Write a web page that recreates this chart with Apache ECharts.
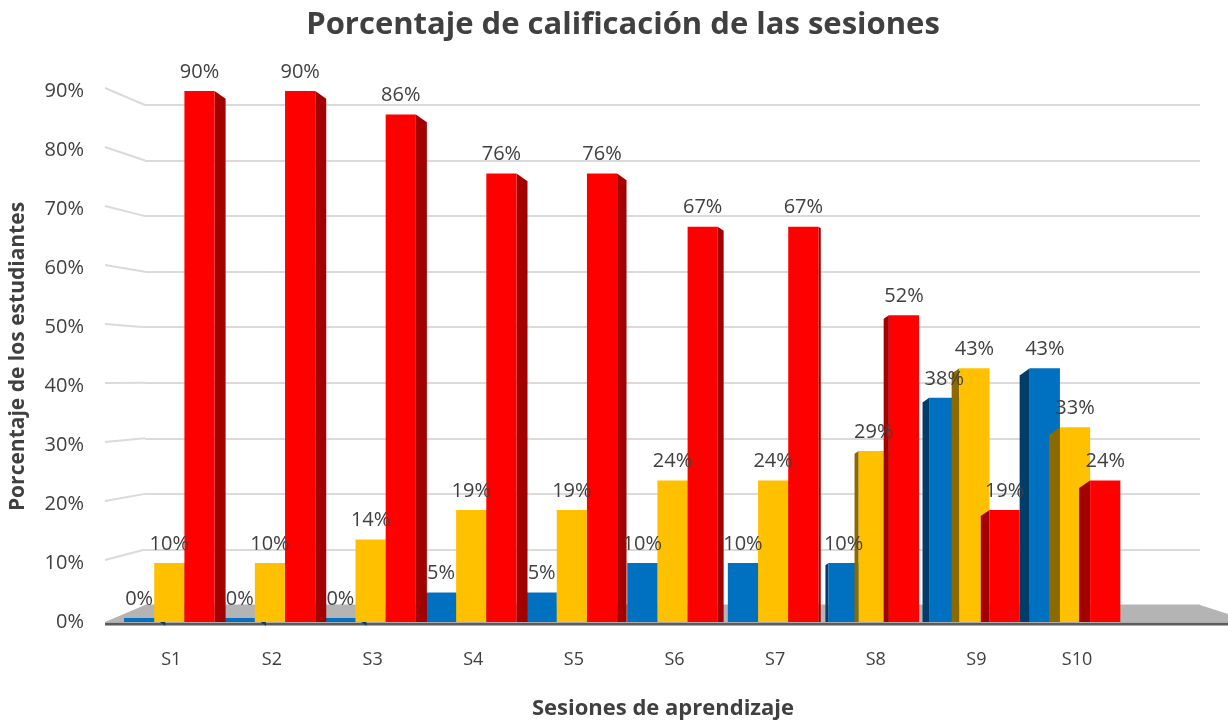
<!DOCTYPE html>
<html>
<head>
<meta charset="utf-8">
<title>Porcentaje de calificación de las sesiones</title>
<script src="https://cdn.jsdelivr.net/npm/echarts@6/dist/echarts.min.js"></script>
<style>
  html, body { margin: 0; padding: 0; background: #fff; }
  #chart { width: 1228px; height: 722px; }
</style>
</head>
<body>
<div id="chart"></div>
<script>
// data
const categories = ["S1", "S2", "S3", "S4", "S5", "S6", "S7", "S8", "S9", "S10", ""];
const blueValues = [0, 0, 0, 5, 5, 10, 10, 10, 38, 43];
const yellowValues = [10, 10, 14, 19, 19, 24, 24, 29, 43, 33];
const redValues = [90, 90, 86, 76, 76, 67, 67, 52, 19, 24];
const yMax = 90;
const yStep = 10;

const W = 1228, H = 722;
const FONT = "'Open Sans', 'Noto Sans', sans-serif";
const TEXT = "#404040";

// front plane (bars + tick labels) and back wall (grid lines)
const front = { left: 120, right: -2, top: 91, bottom: 100 };
const back = { left: 145, right: 28, top: 105, bottom: 117 };

const colors = [
  { face: "#0070c0", side: "#003d6b" },
  { face: "#ffc000", side: "#8c6a00" },
  { face: "#ff0000", side: "#a30000" },
];

const chart = echarts.init(document.getElementById("chart"));

function renderBar(params, api) {
  const cat = api.value(0);
  const val = api.value(1);
  const base = api.coord([cat, 0]);
  const top = api.coord([cat, val]);
  const catW = api.size([1, 0])[0];
  const bw = catW * 0.3;
  const idx = params.seriesIndex;
  const x0 = base[0] + (idx - 1.5) * bw - 2;
  const yb = base[1];
  const yt = Math.min(top[1], yb - 4);
  const c = colors[idx];

  // perspective: bars left of the vanishing point show the right side
  const cs = params.coordSys;
  const vx = cs.x + cs.width * 0.625;
  const dx = x0 + bw / 2 - vx;
  const d = Math.min(11, 2 + Math.abs(dx) * 0.035);
  let side;
  if (dx < 0) {
    side = [[x0 + bw, yt], [x0 + bw + d, yt + d * 0.7], [x0 + bw + d, yb], [x0 + bw, yb]];
  } else {
    side = [[x0, yt], [x0 - d, yt + d * 0.7], [x0 - d, yb], [x0, yb]];
  }

  return {
    type: "group",
    children: [
      {
        type: "polygon",
        shape: { points: side },
        style: { fill: c.side },
      },
      {
        type: "rect",
        shape: { x: x0, y: yt, width: bw, height: yb - yt },
        style: { fill: c.face },
        textContent: {
          style: {
            text: val + "%",
            fill: TEXT,
            fontSize: 20,
            fontFamily: FONT,
          },
        },
        textConfig: { position: "top", distance: 9 },
      },
    ],
  };
}

function barSeries(name, values) {
  return {
    name: name,
    type: "custom",
    xAxisIndex: 0,
    yAxisIndex: 0,
    z: 5,
    renderItem: renderBar,
    data: values.map((v, i) => [i, v]),
  };
}

const option = {
  animation: false,
  title: [
    {
      text: "Porcentaje de calificación de las sesiones",
      left: 618,
      top: 5,
      textAlign: "center",
      textStyle: { fontFamily: FONT, fontSize: 31, fontWeight: "bold", color: TEXT },
    },
    {
      text: "Sesiones de aprendizaje",
      left: 658,
      top: 693,
      textAlign: "center",
      textStyle: { fontFamily: FONT, fontSize: 22, fontWeight: "bold", color: TEXT },
    },
  ],
  grid: [
    { left: front.left, right: front.right, top: front.top, bottom: front.bottom },
    { left: back.left, right: back.right, top: back.top, bottom: back.bottom },
  ],
  xAxis: [
    {
      type: "category",
      gridIndex: 0,
      data: categories,
      axisLine: { show: false },
      axisTick: { show: false },
      axisLabel: { margin: 29, fontFamily: FONT, fontSize: 18, color: TEXT },
    },
    { type: "category", gridIndex: 1, data: categories, show: false },
  ],
  yAxis: [
    {
      type: "value",
      gridIndex: 0,
      min: 0,
      max: yMax,
      interval: yStep,
      name: "Porcentaje de los estudiantes",
      nameLocation: "middle",
      nameGap: 92,
      nameTextStyle: { fontFamily: FONT, fontSize: 21, fontWeight: "bold", color: TEXT },
      axisLine: { show: false },
      axisTick: { show: false },
      splitLine: { show: false },
      axisLabel: {
        margin: 37,
        formatter: "{value}%",
        fontFamily: FONT,
        fontSize: 20,
        color: TEXT,
      },
    },
    {
      type: "value",
      gridIndex: 1,
      min: 0,
      max: yMax,
      interval: yStep,
      axisLine: { show: false },
      axisTick: { show: false },
      axisLabel: { show: false },
      splitLine: { lineStyle: { color: "#dadada", width: 2 } },
    },
  ],
  series: [
    barSeries("Azul", blueValues),
    barSeries("Amarillo", yellowValues),
    barSeries("Rojo", redValues),
  ],
};

chart.setOption(option);

// floor and the slanted stubs of the grid lines, placed from the axes
const frontBase = chart.convertToPixel({ yAxisIndex: 0 }, 0);
const backBase = chart.convertToPixel({ yAxisIndex: 1 }, 0);
const stubLeft = front.left - 15;
const backLeft = back.left;
const backRight = W - back.right;

const graphics = [];
for (let v = yStep; v <= yMax; v += yStep) {
  graphics.push({
    type: "line",
    z: 0,
    shape: {
      x1: stubLeft,
      y1: chart.convertToPixel({ yAxisIndex: 0 }, v) - 3,
      x2: backLeft,
      y2: chart.convertToPixel({ yAxisIndex: 1 }, v),
    },
    style: { stroke: "#dadada", lineWidth: 2 },
  });
}
graphics.push({
  type: "polygon",
  z: 1,
  shape: {
    points: [
      [backLeft, backBase],
      [backRight, backBase],
      [W, backBase + 9],
      [W, frontBase],
      [stubLeft, frontBase],
    ],
  },
  style: { fill: "#b4b4b4" },
});
graphics.push({
  type: "line",
  z: 1,
  shape: { x1: stubLeft, y1: frontBase + 2, x2: W, y2: frontBase + 2 },
  style: { stroke: "#5a5a5a", lineWidth: 3 },
});

chart.setOption({ graphic: graphics });

window.addEventListener("resize", () => chart.resize());
</script>
</body>
</html>
